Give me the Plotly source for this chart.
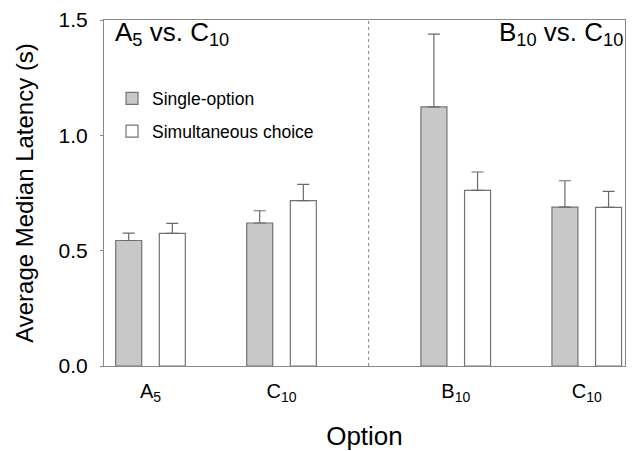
import plotly.graph_objects as go

categories = ["A<sub>5</sub>", "C<sub>10</sub>", "B<sub>10</sub>", "C<sub>10</sub>"]
single_vals = [0.544, 0.620, 1.123, 0.689]
single_err = [0.032, 0.053, 0.316, 0.114]
simult_vals = [0.575, 0.717, 0.761, 0.688]
simult_err = [0.043, 0.070, 0.080, 0.069]
series_names = ["Single-option", "Simultaneous choice"]

# layout positions of the groups (second panel shifted right)
xpos = [0, 1, 2.33, 3.33]
sep = (xpos[1] + xpos[2]) / 2

font = "Liberation Sans, Arial, sans-serif"
edge = "#737373"
errc = "#6a6a6a"

fig = go.Figure()
fig.add_trace(go.Bar(
    x=xpos, y=single_vals, name=series_names[0], legendgroup="g1",
    marker=dict(color="#c8c8c8", line=dict(color=edge, width=1.2)),
    error_y=dict(type="data", array=single_err, symmetric=False, arrayminus=[0]*4,
                 color=errc, thickness=1.2, width=6),
))
fig.add_trace(go.Bar(
    x=xpos, y=simult_vals, name=series_names[1], legendgroup="g2",
    marker=dict(color="white", line=dict(color=edge, width=1.2)),
    error_y=dict(type="data", array=simult_err, symmetric=False, arrayminus=[0]*4,
                 color=errc, thickness=1.2, width=6),
))

fig.add_shape(type="line", xref="x", yref="paper", x0=sep, x1=sep, y0=0, y1=1,
              line=dict(color="#888888", width=1, dash="dot"))

fig.add_annotation(text="A<sub>5</sub> vs. C<sub>10</sub>", xref="paper", yref="paper",
                   x=0.018, y=1.015, xanchor="left", yanchor="top", showarrow=False,
                   font=dict(size=26, color="black", family=font))
fig.add_annotation(text="B<sub>10</sub> vs. C<sub>10</sub>", xref="paper", yref="paper",
                   x=1.0, y=1.015, xanchor="right", yanchor="top", showarrow=False,
                   font=dict(size=26, color="black", family=font))

fig.update_layout(
    width=632, height=451,
    margin=dict(l=104, r=7, t=20, b=85),
    paper_bgcolor="white", plot_bgcolor="white",
    barmode="group", bargap=0.334, bargroupgap=0.404,
    font=dict(family=font, color="black"),
    showlegend=True,
    legend=dict(x=0.0154, y=0.825, xanchor="left", yanchor="top",
                bgcolor="rgba(0,0,0,0)", font=dict(size=17.5, family=font),
                itemwidth=30, tracegroupgap=7),
    xaxis=dict(range=[-0.355, 3.622], tickmode="array", tickvals=xpos, ticktext=categories,
               showgrid=False, zeroline=False, showline=True, linecolor="#888888", linewidth=1,
               mirror=True, ticks="", tickfont=dict(size=20), ticklabelstandoff=7,
               automargin=False,
               title=dict(text="Option", font=dict(size=26), standoff=22)),
    yaxis=dict(range=[0, 1.5], tickvals=[0, 0.5, 1.0, 1.5], ticktext=["0.0", "0.5", "1.0", "1.5"],
               showgrid=False, zeroline=False, showline=True, linecolor="#888888", linewidth=1,
               mirror=True, ticks="outside", ticklen=3, tickcolor="#888888",
               tickfont=dict(size=21), ticklabelstandoff=8, automargin=False,
               title=dict(text="Average Median Latency (s)", font=dict(size=24), standoff=18)),
)

fig.write_html("out.html")
